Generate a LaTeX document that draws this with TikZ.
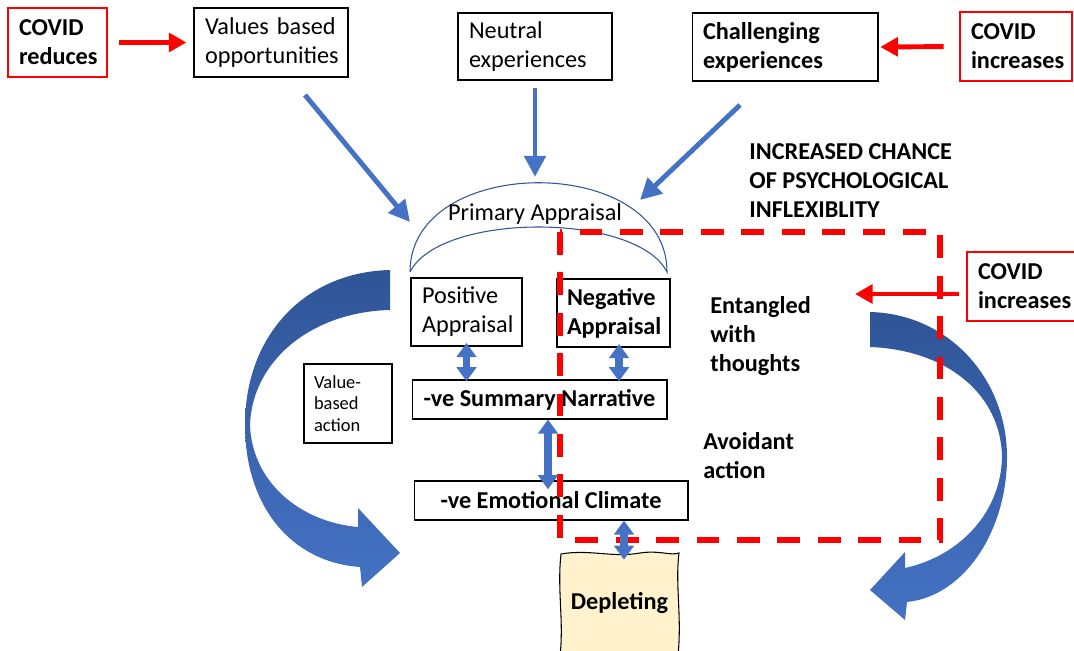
\documentclass[tikz,border=0pt]{standalone}
\usepackage{fontspec}
\setmainfont{Carlito}
\usetikzlibrary{arrows.meta,calc}
\definecolor{arrowblue}{HTML}{4472C4}
\definecolor{darkblue}{HTML}{2F5597}
\definecolor{paleyellow}{HTML}{FFF2CC}
\tikzset{
  box/.style={draw, line width=0.6pt, align=left, inner sep=0pt,
    font=\fontsize{13.8}{16.5}\selectfont},
  boldbox/.style={box, font=\fontsize{13.8}{16.5}\selectfont\bfseries},
  covidbox/.style={boldbox, draw=red, line width=1.6pt},
  sized/.style n args={3}{minimum width=#1, minimum height=#2, text width=#3},
  freetext/.style={align=left, inner sep=0pt, font=\fontsize{13.8}{16.5}\selectfont\bfseries},
  redarrow/.style={draw=red, line width=2.8pt, -{Triangle[length=10pt,width=10.5pt]}},
  bluearrow/.style={draw=arrowblue, line width=2.8pt, -{Triangle[length=12pt,width=12pt]}},
  dblarrow/.style={draw=arrowblue, line width=4pt,
    {Triangle[length=8pt,width=11pt]}-{Triangle[length=8pt,width=11pt]}},
  bigarrow/.style={top color=darkblue, bottom color=arrowblue, draw=none}
}
\begin{document}
\begin{tikzpicture}[x=0.02cm, y=-0.02cm]
  \useasboundingbox (0,0) rectangle (1074,651);

  % sweeping arrows on both sides
  \shade[bigarrow] (390,270) -- (390,310)
    .. controls (310,312) and (252,362) .. (250,425)
    .. controls (252,482) and (300,522) .. (358,527)
    -- (358,508) -- (400,553) -- (362,587) -- (360,567)
    .. controls (290,562) and (245,505) .. (245,425)
    .. controls (245,335) and (305,272) .. (390,270) -- cycle;
  \shade[bigarrow] (870,312)
    .. controls (950,314) and (1007,380) .. (1007,457)
    .. controls (1007,530) and (965,596) .. (907,602)
    -- (905,620) -- (870,590) -- (905,552) -- (905,568)
    .. controls (960,556) and (1001,512) .. (1002,457)
    .. controls (1001,395) and (948,350) .. (870,347) -- cycle;

  \node[covidbox, sized={1.98cm}{1.38cm}{1.54cm}] (reduce) at (57.5,42.5) {COVID\\reduces};
  \node[box, sized={3.08cm}{1.38cm}{2.64cm}] (values) at (271,42.5) {Values based\\opportunities};
  \node[box, sized={3.08cm}{1.34cm}{2.64cm}] (neutral) at (535,46.5) {Neutral\\experiences};
  \node[boldbox, sized={3.72cm}{1.36cm}{3.28cm}] (challenge) at (785,47) {Challenging\\experiences};
  \node[covidbox, sized={2.24cm}{1.38cm}{1.8cm}] (covidtop) at (1016,46.5) {COVID\\increases};
  \node[covidbox, sized={2.2cm}{1.38cm}{1.76cm}] (covidmid) at (1022,286.5) {COVID\\increases};

  % primary appraisal lens
  \draw[darkblue, line width=0.6pt] (410,272) .. controls (410,153) and (667,153) .. (667,272)
    .. controls (637,212) and (440,212) .. (410,272);
  \node[inner sep=0pt, font=\fontsize{13.8}{16.5}\selectfont] (primary) at (535,214) {Primary Appraisal};

  \node[box, sized={2.22cm}{1.36cm}{1.78cm}] (positive) at (466.5,312) {Positive\\Appraisal};
  \node[boldbox, sized={2.26cm}{1.36cm}{1.86cm}] (negative) at (613.5,313) {Negative\\Appraisal};
  \node[boldbox, align=center, minimum width=5.1cm, minimum height=0.78cm] (summary) at (539.5,399.5) {-ve Summary Narrative};
  \node[boldbox, align=center, minimum width=5.48cm, minimum height=0.78cm] (emotional) at (551,500.5) {-ve Emotional Climate};
  \node[box, sized={1.76cm}{1.58cm}{1.36cm}, font=\fontsize{10.5}{12.3}\selectfont] (valueact) at (348,403.5) {Value-\\based\\action};

  % hand drawn sheet
  \draw[line width=0.6pt, fill=paleyellow] (561,554)
    .. controls (590,549) and (612,558) .. (640,553)
    .. controls (660,550) and (670,556) .. (679,553)
    .. controls (675,585) and (682,615) .. (678,656)
    -- (560,656)
    .. controls (564,620) and (557,590) .. (561,554) -- cycle;
  \node[inner sep=0pt, minimum height=2cm, font=\fontsize{13.8}{16.5}\selectfont\bfseries] (depleting) at (619.5,603) {Depleting};

  \node[freetext, anchor=north west] (inflex) at (749,143) {INCREASED CHANCE\\OF PSYCHOLOGICAL\\INFLEXIBLITY};
  \node[freetext, anchor=north west] (entangled) at (710,296) {Entangled\\with\\thoughts};
  \node[freetext, anchor=north west] (avoidant) at (703,432) {Avoidant\\action};

  \draw[red, line width=3.4pt, dash pattern=on 13pt off 10pt] (560,232) rectangle (940,540);

  % covid influences
  \coordinate (covidtip) at (855,294);
  \draw[redarrow, shorten <=6.3pt, shorten >=4pt] (reduce.east) -- (values.west);
  \draw[redarrow, shorten <=8.5pt, shorten >=1pt] (covidtop.west) -- (challenge.east);
  \draw[redarrow, shorten <=4pt] (covidmid.west |- covidtip) -- (covidtip);

  % experiences into appraisal
  \coordinate (valtail) at (305,95);
  \coordinate (valhead) at (410,222);
  \coordinate (chaltail) at (740,105);
  \coordinate (chalhead) at (640,200);
  \draw[bluearrow] (valtail) -- (valhead);
  \draw[bluearrow, shorten <=4.5pt, shorten >=15pt] (neutral.south) -- (primary.north);
  \draw[bluearrow] (chaltail) -- (chalhead);

  \begin{scope}[shorten <=-2pt, shorten >=-1pt]
    \draw[dblarrow] (positive.south) -- (positive.south |- summary.north);
    \draw[dblarrow] ([xshift=0.11cm]negative.south) -- ([xshift=0.11cm]negative.south |- summary.north);
  \end{scope}
  \draw[dblarrow, shorten >=-5pt] ([xshift=0.17cm]summary.south) -- ([xshift=0.17cm]summary.south |- emotional.north);
  \draw[dblarrow, shorten >=-4pt] ([xshift=0.09cm]emotional.south -| depleting.north) -- ([xshift=0.09cm]depleting.north);
\end{tikzpicture}
\end{document}
